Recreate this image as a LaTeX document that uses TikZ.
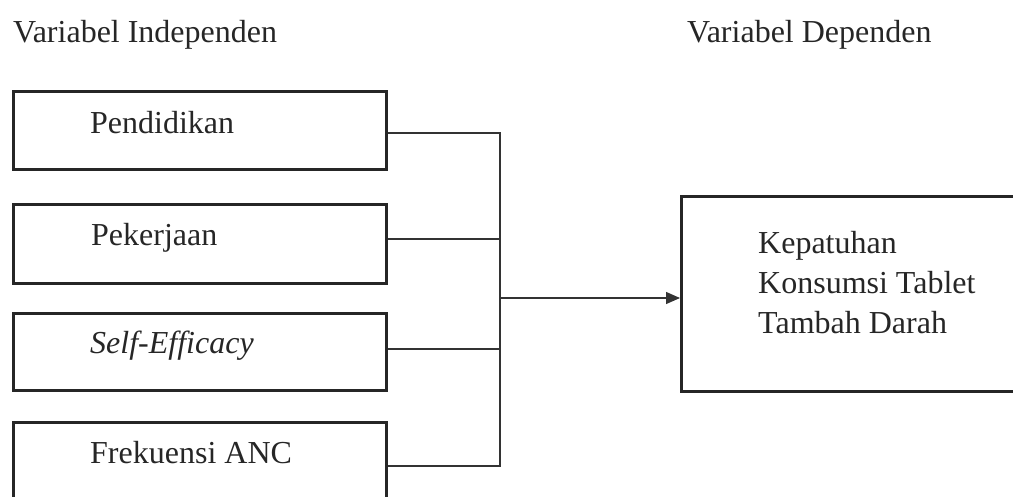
\documentclass[tikz,border=0pt]{standalone}
\usepackage{fontspec}
\setmainfont{Liberation Serif}
\usetikzlibrary{arrows.meta}
\begin{document}
\begin{tikzpicture}[x=1pt,y=-1pt,
  box/.style={draw, line width=2.8pt, rectangle, inner sep=0pt, anchor=north west, black!85},
  lbl/.style={anchor=base west, inner sep=0pt, font=\fontsize{32}{40}\selectfont, text=black!85},
  conn/.style={line width=1.3pt, black!80},
  arr/.style={conn, -{Triangle[length=14pt,width=12pt]}}]
\useasboundingbox (0,0) rectangle (1013,496);
\clip (0,0) rectangle (1013,496);
% headings
\node[lbl] (hi) at (13,42) {Variabel Independen};
\node[lbl] (hd) at (687,42) {Variabel Dependen};
% boxes
\node[box, minimum width=373pt, minimum height=78pt] (b1) at (12,90) {};
\node[box, minimum width=373pt, minimum height=79pt] (b2) at (12,203) {};
\node[box, minimum width=373pt, minimum height=77pt] (b3) at (12,312) {};
\node[box, minimum width=373pt, minimum height=90pt] (b4) at (12,421) {};
\node[box, minimum width=360pt, minimum height=195pt] (dv) at (680,195) {};
% labels
\node[lbl] (t1) at (90,133) {Pendidikan};
\node[lbl] (t2) at (91,245) {Pekerjaan};
\node[lbl] (t3) at (90,353) {\itshape Self-Efficacy};
\node[lbl] (t4) at (90,463) {Frekuensi ANC};
\node[lbl] (t5) at (758,253) {Kepatuhan};
\node[lbl] (t6) at (758,293) {Konsumsi Tablet};
\node[lbl] (t7) at (758,333) {Tambah Darah};
% connectors
\coordinate (j) at (500,298);
\coordinate (j1) at (500,133);
\coordinate (j2) at (500,239);
\coordinate (j3) at (500,349);
\coordinate (j4) at (500,466);
\draw[conn] (b1.east |- j1) -- (j1) -- (j4) -- (b4.east |- j4);
\draw[conn] (b2.east |- j2) -- (j2);
\draw[conn] (b3.east |- j3) -- (j3);
\draw[arr] (j) -- (dv.west |- j);
\end{tikzpicture}
\end{document}
